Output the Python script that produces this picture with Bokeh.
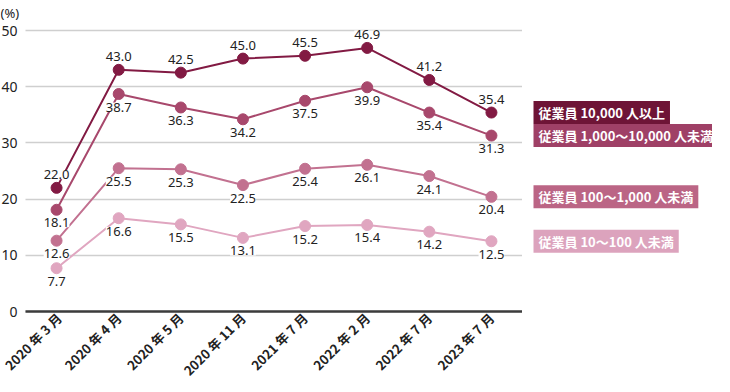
import math
from bokeh.plotting import figure
from bokeh.layouts import row
from bokeh.models import (ColumnDataSource, Range1d, FixedTicker, Label,
                          LabelSet, LinearAxis, Grid)
from bokeh.embed import file_html
from bokeh.resources import INLINE
from bokeh.core.properties import value

categories = ["2020 年 3 月", "2020 年 4 月", "2020 年 5 月", "2020 年 11 月",
              "2021 年 7 月", "2022 年 2 月", "2022 年 7 月", "2023 年 7 月"]
emp_10000_plus = [22.0, 43.0, 42.5, 45.0, 45.5, 46.9, 41.2, 35.4]
emp_1000_10000 = [18.1, 38.7, 36.3, 34.2, 37.5, 39.9, 35.4, 31.3]
emp_100_1000 = [12.6, 25.5, 25.3, 22.5, 25.4, 26.1, 24.1, 20.4]
emp_10_100 = [7.7, 16.6, 15.5, 13.1, 15.2, 15.4, 14.2, 12.5]
series_names = ["従業員 10,000 人以上", "従業員 1,000〜10,000 人未満",
                "従業員 100〜1,000 人未満", "従業員 10〜100 人未満"]
y_ticks = [0, 10, 20, 30, 40, 50]
unit_label = "(%)"

series = [emp_10000_plus, emp_1000_10000, emp_100_1000, emp_10_100]
line_colors = ["#821a43", "#a8486c", "#c27190", "#e0a6c0"]
box_colors = ["#6e1436", "#9f4066", "#bb6585", "#dca3bd"]
label_above = [True, False, False, False]

FONT = "Noto Sans"
CJK = "Noto Sans CJK JP"

idx = list(range(len(categories)))
x_lo, x_hi = idx[0] - 0.5, idx[-1] + 0.5
W_MAIN, W_LEG, H = 522, 190, 382
LEFT_PX = 25                       # space for y tick labels inside the frame
px_per_cat = (W_MAIN - LEFT_PX) / (x_hi - x_lo)
x_range = Range1d(x_lo - LEFT_PX / px_per_cat, x_hi)

TOP_PX, ZERO_PX = 30, 311         # rows of the 50 and 0 gridlines
k = (ZERO_PX - TOP_PX) / y_ticks[-1]
y_range = Range1d(-(H - ZERO_PX) / k, y_ticks[-1] + TOP_PX / k)

p = figure(width=W_MAIN, height=H, output_backend="svg", toolbar_location=None,
           x_range=x_range, y_range=y_range,
           x_axis_location=None, y_axis_location=None,
           min_border_left=0, min_border_right=0, min_border_top=0,
           min_border_bottom=0)
p.outline_line_color = None
p.background_fill_color = "white"
p.grid.grid_line_color = None

ygrid = Grid(dimension=1, ticker=FixedTicker(ticks=y_ticks), cross_bounds=(x_lo, x_hi),
             grid_line_color="#cfcfcf", grid_line_width=1.5)
p.add_layout(ygrid)

yaxis = LinearAxis(fixed_location=x_lo, ticker=FixedTicker(ticks=y_ticks))
yaxis.axis_line_color = None
yaxis.major_tick_line_color = None
yaxis.minor_tick_line_color = None
yaxis.major_tick_out = 0
yaxis.major_label_standoff = 8
yaxis.major_label_text_font = FONT
yaxis.major_label_text_font_size = "14px"
yaxis.major_label_text_color = "#222222"
p.add_layout(yaxis, "left")

xaxis = LinearAxis(fixed_location=0, ticker=FixedTicker(ticks=idx),
                   major_label_overrides={i: c for i, c in zip(idx, categories)},
                   bounds=(x_lo, x_hi))
xaxis.axis_line_color = "#3c3c3c"
xaxis.axis_line_width = 2.5
xaxis.major_tick_line_color = None
xaxis.minor_tick_line_color = None
xaxis.major_tick_out = 0
xaxis.major_label_orientation = math.pi / 4
xaxis.major_label_standoff = 4
xaxis.major_label_text_font = CJK
xaxis.major_label_text_font_style = "bold"
xaxis.major_label_text_font_size = "13px"
xaxis.major_label_text_color = "#222222"
p.add_layout(xaxis, "below")

sources = []
for vals in series:
    sources.append(ColumnDataSource(dict(x=idx, y=vals,
                                         t=[f"{v:.1f}" for v in vals])))

for src, col in reversed(list(zip(sources, line_colors))):
    p.line("x", "y", source=src, line_color=col, line_width=2)
    p.scatter("x", "y", source=src, size=11, fill_color=col, line_color=col)

for src, above in zip(sources, label_above):
    p.add_layout(LabelSet(x="x", y="y", text="t", source=src,
                          y_offset=13 if above else -13,
                          text_align="center", text_baseline="middle",
                          text_font=value(FONT), text_font_size="13px",
                          text_color="#222222", background_fill_color="white"))

p.add_layout(Label(x=0, y=y_range.end - 12 / k, x_units="screen", y_units="data",
                   text=unit_label, text_font=FONT, text_font_size="13px",
                   text_color="#222222", text_align="left", text_baseline="middle"))

# legend panel to the right, sharing the y range
q = figure(width=W_LEG, height=H, output_backend="svg", toolbar_location=None,
           x_range=Range1d(0, W_LEG), y_range=y_range,
           x_axis_type=None, y_axis_type=None,
           min_border_left=0, min_border_right=0, min_border_top=0,
           min_border_bottom=0)
q.outline_line_color = None
q.xgrid.grid_line_color = None
q.ygrid.grid_line_color = None

for vals, name, bc in zip(series, series_names, box_colors):
    q.add_layout(Label(x=11, y=vals[-1], x_units="data", y_units="data",
                       text=name, text_color="white", text_font=CJK,
                       text_font_style="bold", text_font_size="13px",
                       text_align="left", text_baseline="middle",
                       background_fill_color=bc, padding=(5, 2)))

layout = row(p, q, spacing=0)
open("out.html", "w").write(file_html(layout, INLINE))
